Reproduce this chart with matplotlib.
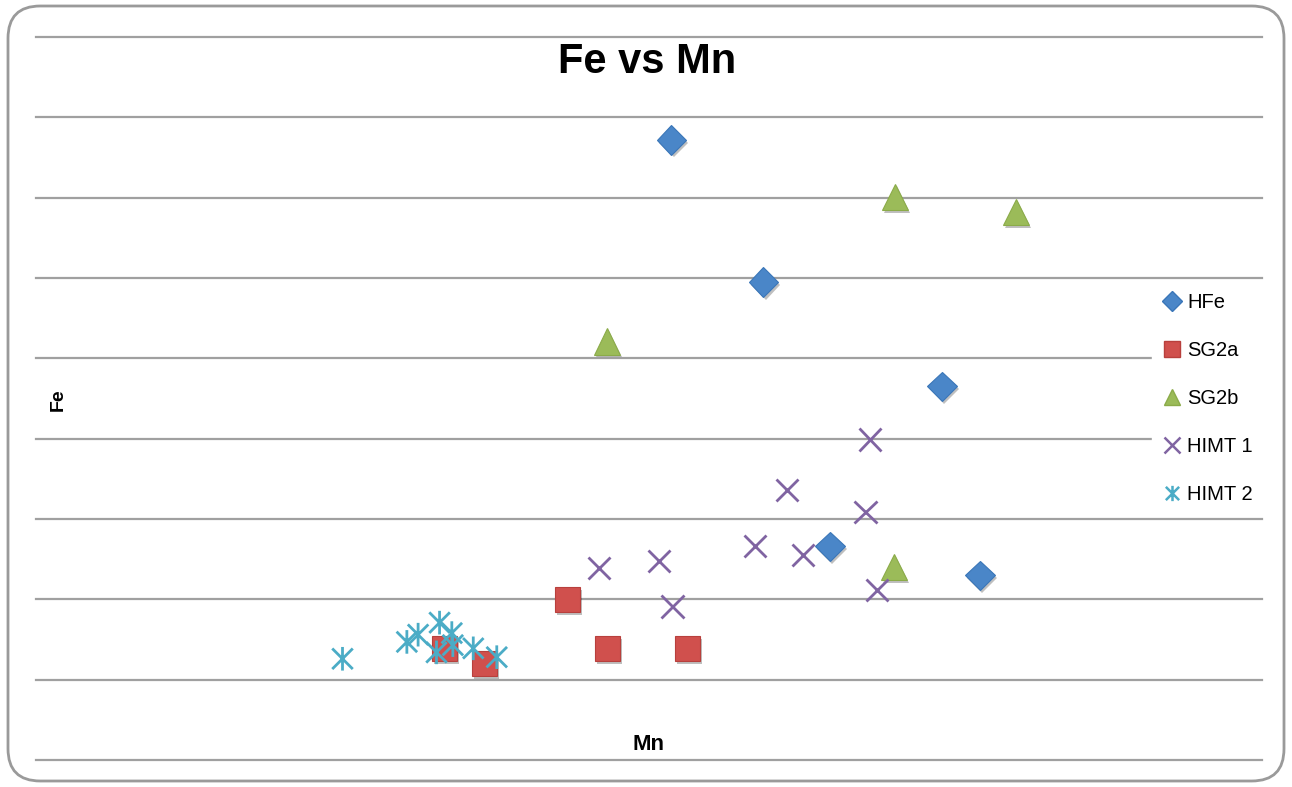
import numpy as np
import matplotlib
matplotlib.use('Agg')
import matplotlib.pyplot as pp
import matplotlib.patches as mppatches
import matplotlib.lines as mlines
import matplotlib.patheffects as pe
from matplotlib.path import Path

# data (no tick labels on the original, arbitrary units)
hfe_mn = [6.22, 7.12, 8.87, 7.77, 9.24]
hfe_fe = [7.72, 5.95, 4.65, 2.66, 2.30]

sg2a_mn = [5.20, 5.59, 6.38, 4.00, 4.39]
sg2a_fe = [2.00, 1.39, 1.39, 1.39, 1.20]

sg2b_mn = [8.41, 9.59, 5.59, 8.40]
sg2b_fe = [7.01, 6.82, 5.21, 2.40]

himt1_mn = [8.16, 7.35, 8.12, 7.04, 7.51, 5.51, 6.10, 6.23, 8.23]
himt1_fe = [3.99, 3.36, 3.09, 2.66, 2.55, 2.39, 2.48, 1.91, 2.12]

himt2_mn = [3.00, 3.63, 3.74, 3.95, 4.07, 3.92, 4.08, 4.28, 4.51]
himt2_fe = [1.26, 1.47, 1.56, 1.71, 1.58, 1.34, 1.43, 1.39, 1.28]

labels = ['HFe', 'SG2a', 'SG2b', 'HIMT 1', 'HIMT 2']
colors = ['#4A86C8', '#D0504D', '#9BBB59', '#8064A2', '#4BACC6']

# asterisk like the excel "star" marker: x plus a vertical bar
star = Path([(-1, -1), (1, 1), (-1, 1), (1, -1), (0, -1.15), (0, 1.15)],
            [Path.MOVETO, Path.LINETO, Path.MOVETO, Path.LINETO, Path.MOVETO, Path.LINETO])

shadow = [pe.SimplePatchShadow(offset=(1.5, -2), shadow_rgbFace='k', alpha=0.25), pe.Normal()]

fig = pp.figure(figsize=(12.92, 7.87), dpi=100)
ax = fig.add_axes([36 / 1292, 27 / 787, 1226 / 1292, 723 / 787])

# rounded outer border
border = mppatches.FancyBboxPatch((8 / 1292, 6 / 787), 1276 / 1292, 775 / 787,
                                  boxstyle='round,pad=0,rounding_size=0.025',
                                  transform=fig.transFigure, facecolor='none',
                                  edgecolor='#9A9A9A', linewidth=2.0, zorder=0,
                                  mutation_aspect=1292 / 787)
fig.patches.append(border)

ax.plot(hfe_mn, hfe_fe, linestyle='', marker='D', ms=15, mfc=colors[0], mec='#3A76B8',
        mew=0.8, path_effects=shadow, zorder=3)
ax.plot(sg2a_mn, sg2a_fe, linestyle='', marker='s', ms=18, mfc=colors[1], mec='#B8403D',
        mew=0.8, path_effects=shadow, zorder=3)
ax.plot(sg2b_mn, sg2b_fe, linestyle='', marker='^', ms=19, mfc=colors[2], mec='#8BAB49',
        mew=0.8, path_effects=shadow, zorder=3)
ax.plot(himt1_mn, himt1_fe, linestyle='', marker='x', ms=16, mec=colors[3], mew=2.0,
        path_effects=shadow, zorder=4)
ax.plot(himt2_mn, himt2_fe, linestyle='', marker=star, ms=17, mec=colors[4], mfc='none',
        mew=2.0, path_effects=shadow, zorder=4)

ax.set_xlim(0, 12)
ax.set_ylim(0, 9)
ax.set_yticks(np.arange(0, 10))
ax.set_xticks([])
ax.yaxis.grid(True, color='#A0A0A0', linewidth=1.6)
for gl in ax.get_ygridlines():
    gl.set_clip_on(False)
ax.tick_params(left=False, labelleft=False)
for s in ax.spines.values():
    s.set_visible(False)
ax.set_axisbelow(True)

fig.text(647 / 1292, 1 - 62 / 787, 'Fe vs Mn', ha='center', va='center',
         fontsize=30, fontweight='bold', family='Liberation Sans')
fig.text(58 / 1292, 1 - 400 / 787, 'Fe', ha='center', va='center', rotation=90,
         fontsize=14, fontweight='bold', family='Liberation Sans')
fig.text(649 / 1292, 1 - 744 / 787, 'Mn', ha='center', va='center',
         fontsize=16, fontweight='bold', family='Liberation Sans')

handles = [
    mlines.Line2D([], [], linestyle='', marker='D', ms=10, mfc=colors[0], mec='#3A76B8', label=labels[0]),
    mlines.Line2D([], [], linestyle='', marker='s', ms=11, mfc=colors[1], mec='#B8403D', label=labels[1]),
    mlines.Line2D([], [], linestyle='', marker='^', ms=12, mfc=colors[2], mec='#8BAB49', label=labels[2]),
    mlines.Line2D([], [], linestyle='', marker='x', ms=11, mec=colors[3], mew=1.8, label=labels[3]),
    mlines.Line2D([], [], linestyle='', marker=star, ms=11, mec=colors[4], mfc='none', mew=1.8, label=labels[4]),
]
leg = ax.legend(handles=handles, loc='center left', bbox_to_anchor=(0.91, 0.5),
                frameon=True, fancybox=False, framealpha=1.0, edgecolor='white',
                facecolor='white', labelspacing=1.45, handlelength=1.0,
                handletextpad=0.25, borderpad=0.5, borderaxespad=0,
                prop={'family': 'Liberation Sans', 'size': 14.5})
leg.set_zorder(5)

fig.savefig('out.png', dpi=100)
